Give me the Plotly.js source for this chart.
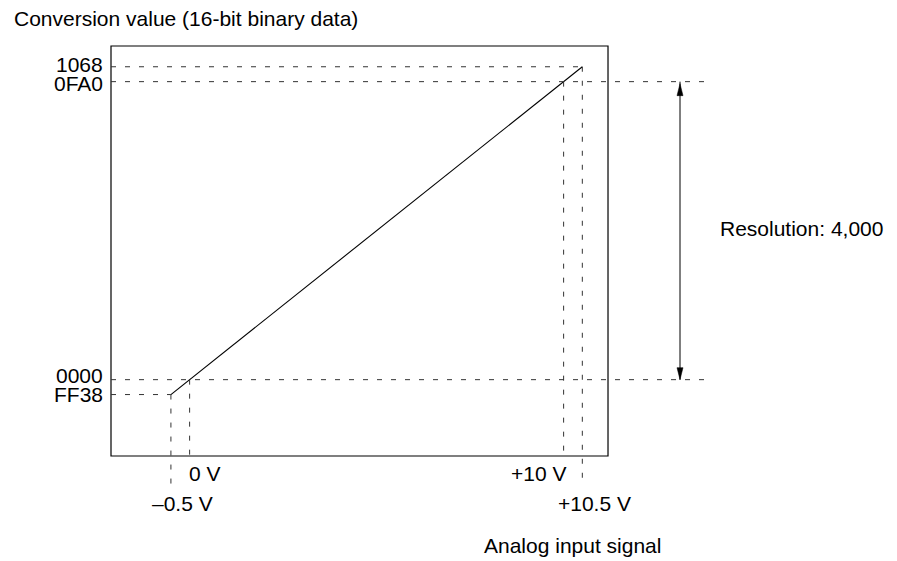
<!DOCTYPE html>
<html>
<head>
<meta charset="utf-8">
<script src="https://cdn.plot.ly/plotly-3.0.1.min.js"></script>
<style>
  html, body { margin: 0; padding: 0; background: #fff; }
  #chart { width: 897px; height: 561px; }
</style>
</head>
<body>
<div id="chart"></div>
<script>
// ---- Data ----
// Analog input signal (V) and the corresponding conversion values
const inputVolts = [-0.5, 0, 10, 10.5];
const inputLabels = ['\u20130.5 V', '0 V', '+10 V', '+10.5 V'];
// Conversion values (decimal) and their 16-bit hex labels
const convValues = [-200, 0, 4000, 4200];
const convLabels = ['FF38', '0000', '0FA0', '1068'];
// Conversion line end points
const lineX = [-0.5, 10.5];
const lineY = [-200, 4200];
const resolutionText = 'Resolution: 4,000';
const yTitle = 'Conversion value (16-bit binary data)';
const xTitle = 'Analog input signal';

// ---- View / layout constants ----
const W = 897, H = 561;
const XR = [-5.07, 18.914];
const YR = [-2434, 5096];
const FRAME = {x0: -2.102, x1: 11.187, y0: -1024.6, y1: 4478.6};
const H_EXT = 13.914;     // right end of extended horizontal guides
const V_EXT = -1427;      // bottom end of extended vertical guides
const ARROW_X = 13.112;
const FONT = {family: '"Liberation Sans", Arial, Helvetica, sans-serif', size: 21, color: '#000'};
const DASH = {color: '#333', width: 1, dash: '5px,9px'};

const shapes = [];
// frame
shapes.push({type: 'rect', xref: 'x', yref: 'y', x0: FRAME.x0, x1: FRAME.x1, y0: FRAME.y0, y1: FRAME.y1,
  line: {color: '#000', width: 1.2}, fillcolor: 'rgba(0,0,0,0)', layer: 'below'});

// horizontal guides: from frame left to ...
const hEnds = {'FF38': lineX[0], '0000': H_EXT, '0FA0': H_EXT, '1068': lineX[1]};
convValues.forEach((v, i) => {
  shapes.push({type: 'line', xref: 'x', yref: 'y', x0: FRAME.x0, x1: hEnds[convLabels[i]], y0: v, y1: v, line: DASH});
});
// vertical guides
const vStarts = {'\u20130.5 V': lineY[0], '0 V': 0, '+10 V': 4000, '+10.5 V': lineY[1]};
const vEnds = {'\u20130.5 V': V_EXT, '0 V': FRAME.y0, '+10 V': FRAME.y0, '+10.5 V': V_EXT};
inputVolts.forEach((v, i) => {
  const lab = inputLabels[i];
  shapes.push({type: 'line', xref: 'x', yref: 'y', x0: v, x1: v, y0: vStarts[lab], y1: vEnds[lab], line: DASH});
});

// resolution arrow: shaft between 0000 and 0FA0, with filled heads
const resTop = convValues[2], resBottom = convValues[1];
shapes.push({type: 'line', xref: 'x', yref: 'y', x0: ARROW_X, x1: ARROW_X, y0: resBottom, y1: resTop,
  line: {color: '#000', width: 1}});
shapes.push({type: 'path', xref: 'x', yref: 'y', xsizemode: 'pixel', ysizemode: 'pixel',
  xanchor: ARROW_X, yanchor: resTop, path: 'M0,-2 L-3,-14 L3,-14 Z',
  fillcolor: '#000', line: {color: '#000', width: 0.5}});
shapes.push({type: 'path', xref: 'x', yref: 'y', xsizemode: 'pixel', ysizemode: 'pixel',
  xanchor: ARROW_X, yanchor: resBottom, path: 'M0,0 L-3,12 L3,12 Z',
  fillcolor: '#000', line: {color: '#000', width: 0.5}});

const ann = [];
// y labels
const yShift = {'FF38': 0, '0000': 4.5, '0FA0': -1.5, '1068': 2};
convValues.forEach((v, i) => {
  ann.push({xref: 'paper', yref: 'y', x: 105 / W, y: v, text: convLabels[i], showarrow: false,
    xanchor: 'right', yanchor: 'middle', yshift: yShift[convLabels[i]], font: FONT});
});
// x labels
const xLab = {
  '\u20130.5 V': {xanchor: 'center', xshift: 11.5, py: 503},
  '0 V': {xanchor: 'left', xshift: -3, py: 473},
  '+10 V': {xanchor: 'right', xshift: 4, py: 473},
  '+10.5 V': {xanchor: 'center', xshift: 12, py: 503}
};
inputVolts.forEach((v, i) => {
  const o = xLab[inputLabels[i]];
  ann.push({xref: 'x', yref: 'paper', x: v, y: 1 - o.py / H, text: inputLabels[i], showarrow: false,
    xanchor: o.xanchor, yanchor: 'middle', xshift: o.xshift, font: FONT});
});
// titles
ann.push({xref: 'paper', yref: 'paper', x: 12 / W, y: 1 - 19 / H, text: yTitle, showarrow: false,
  xanchor: 'left', yanchor: 'middle', font: FONT});
ann.push({xref: 'paper', yref: 'paper', x: 482 / W, y: 1 - 545 / H, text: xTitle, showarrow: false,
  xanchor: 'left', yanchor: 'middle', font: FONT});
ann.push({xref: 'paper', yref: 'paper', x: 718 / W, y: 1 - 228 / H, text: resolutionText, showarrow: false,
  xanchor: 'left', yanchor: 'middle', font: FONT});

const trace = {
  x: lineX, y: lineY, type: 'scatter', mode: 'lines',
  line: {color: '#000', width: 1.1}, hoverinfo: 'skip', showlegend: false, cliponaxis: false
};

const layout = {
  width: W, height: H,
  margin: {l: 0, r: 0, t: 0, b: 0, pad: 0},
  paper_bgcolor: '#fff', plot_bgcolor: '#fff',
  xaxis: {range: XR, visible: false, fixedrange: true},
  yaxis: {range: YR, visible: false, fixedrange: true},
  shapes: shapes,
  annotations: ann,
  showlegend: false,
  font: FONT
};

Plotly.newPlot('chart', [trace], layout, {staticPlot: true, displayModeBar: false});
</script>
</body>
</html>
